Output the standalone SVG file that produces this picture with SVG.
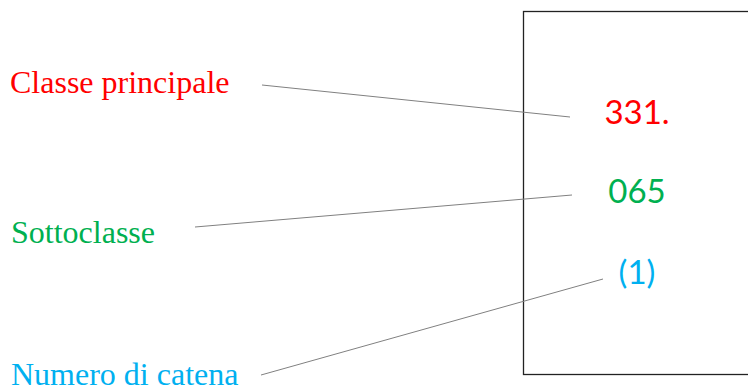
<svg xmlns="http://www.w3.org/2000/svg" width="748" height="392" viewBox="0 0 748 392">
<style>
.lbl{font-family:"Liberation Serif","Times New Roman",serif;font-size:32px}
.num{font-family:Lato,"Open Sans",sans-serif;font-size:33px;text-anchor:middle}
.red{fill:#FF0000}.green{fill:#00B050}.blue{fill:#00B0F0}
.conn{stroke:#808080;stroke-width:1;fill:none}
</style>
<rect width="748" height="392" fill="#fff"/>
<g id="box"><rect x="523.5" y="11.5" width="240" height="363" fill="none" stroke="#222" stroke-width="1.3"/></g>
<g id="label-classe"><text class="lbl red" x="10" y="93">Classe principale</text></g>
<g id="label-sotto"><text class="lbl green" x="11" y="243">Sottoclasse</text></g>
<g id="label-catena"><text class="lbl blue" x="11" y="385">Numero di catena</text></g>
<g id="num-331"><text class="num red" x="637" y="124">331.</text></g>
<g id="num-065"><text class="num green" x="637" y="203">065</text></g>
<g id="num-1"><text class="num blue" x="637" y="284">(1)</text></g>
<g id="connectors">
<line class="conn" x1="262" y1="85" x2="570" y2="117"/>
<line class="conn" x1="195" y1="227" x2="572" y2="195"/>
<line class="conn" x1="261" y1="375" x2="603" y2="279"/>
</g>
</svg>
